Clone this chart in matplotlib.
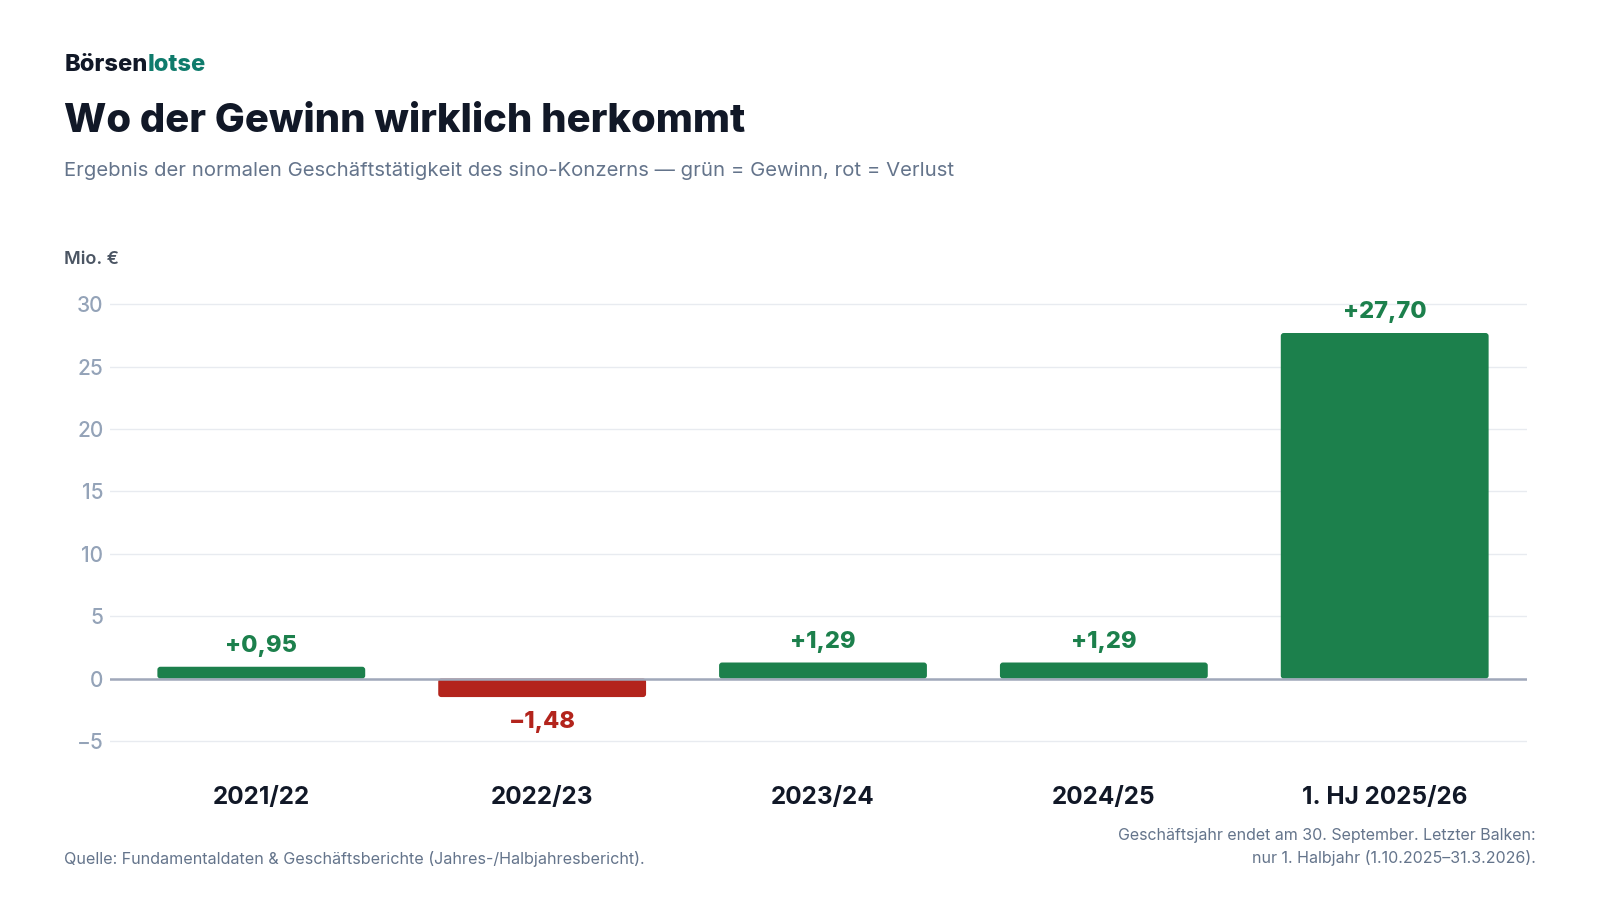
#!/usr/bin/env python3
# coding: utf-8
"""
Bar chart: Ergebnis der normalen Geschäftstätigkeit (sino-Konzern)
"""

import matplotlib.pyplot as plt
from matplotlib.patches import FancyBboxPatch

plt.rcParams["font.family"] = ["Inter", "DejaVu Sans"]

# Data
periods = ["2021/22", "2022/23", "2023/24", "2024/25", "1. HJ 2025/26"]
values = [0.95, -1.48, 1.29, 1.29, 27.70]
yticks = [-5, 0, 5, 10, 15, 20, 25, 30]

GREEN = "#1c804c"
RED = "#b3241c"
DARK = "#111827"
GRAY = "#64748b"
TICK = "#94a3b8"

# layout helpers (positions measured on a 1568x882 view)
W, H = 1568, 882


def fx(px):
    return px / W


def fy(py):
    return 1 - py / H


def fmt(v):
    s = f"{abs(v):.2f}".replace(".", ",")
    return ("+" if v >= 0 else "\u2212") + s


fig = plt.figure(figsize=(16, 9), dpi=100)
ax = fig.add_axes([fx(108), fy(744.5), fx(1496) - fx(108), fy(286) - fy(744.5)])

x = list(range(len(periods)))
xlim = (-0.538, 4.505)
ylim = (-6.5, 31)
ax.set_xlim(*xlim)
ax.set_ylim(*ylim)

# rounded bars: compensate axes aspect so corners stay circular
bw = 0.74
ax_w_px = fig.get_figwidth() * fig.dpi * (fx(1496) - fx(108))
ax_h_px = fig.get_figheight() * fig.dpi * (fy(286) - fy(744.5))
x_per_px = (xlim[1] - xlim[0]) / ax_w_px
y_per_px = (ylim[1] - ylim[0]) / ax_h_px
aspect = y_per_px / x_per_px
for xi, v in zip(x, values):
    y0, h = (0, v) if v >= 0 else (v, -v)
    patch = FancyBboxPatch(
        (xi - bw / 2, y0), bw, h,
        boxstyle=f"round,pad=0,rounding_size={3 * x_per_px}",
        mutation_aspect=aspect,
        facecolor=GREEN if v >= 0 else RED,
        edgecolor="none",
        zorder=3,
    )
    ax.add_patch(patch)

for xi, v in zip(x, values):
    if v >= 0:
        ax.annotate(fmt(v), (xi, v), xytext=(0, 7), textcoords="offset points",
                    ha="center", va="bottom", fontsize=17, fontweight="heavy",
                    color=GREEN)
    else:
        ax.annotate(fmt(v), (xi, v), xytext=(0, -10), textcoords="offset points",
                    ha="center", va="top", fontsize=17, fontweight="heavy",
                    color=RED)

ax.set_yticks(yticks)
ax.set_yticklabels([str(t).replace("-", "\u2212") for t in yticks])
ax.set_xticks(x)
ax.set_xticklabels(periods)

ax.grid(axis="y", color="#e8ebf0", linewidth=1, zorder=0)
ax.axhline(0, color="#a0a8ba", linewidth=1.8, zorder=4)
for s in ax.spines.values():
    s.set_visible(False)
ax.tick_params(axis="y", length=0, pad=5, labelsize=15, labelcolor=TICK)
ax.tick_params(axis="x", length=0, pad=19, labelsize=17.5, labelcolor=DARK)
for lab in ax.get_yticklabels():
    lab.set_fontweight("medium")
for lab in ax.get_xticklabels():
    lab.set_fontweight("bold")

# Header
brand = fig.text(fx(63), fy(64), "Börsen", fontsize=17, fontweight="heavy",
                 color=DARK, va="center", ha="left")
fig.add_artist(plt.Annotation("lotse", xy=(1, 0), xycoords=brand,
                              ha="left", va="bottom", fontsize=17,
                              fontweight="heavy", color="#0f7b6c"))

fig.text(fx(63), fy(119), "Wo der Gewinn wirklich herkommt",
         fontsize=28.8, fontweight="heavy", color=DARK, va="center", ha="left")
fig.text(fx(63), fy(168),
         "Ergebnis der normalen Geschäftstätigkeit des sino-Konzerns \u2014 "
         "grün = Gewinn, rot = Verlust",
         fontsize=14.6, color=GRAY, va="center", ha="left")
fig.text(fx(63), fy(254), "Mio. €", fontsize=13,
         fontweight="semibold", color="#4b5563", va="center", ha="left")

# Footer
fig.text(fx(63), fy(842),
         "Quelle: Fundamentaldaten & Geschäftsberichte "
         "(Jahres-/Halbjahresbericht).",
         fontsize=11.6, color=GRAY, va="center", ha="left")
fig.text(fx(1505), fy(830),
         "Geschäftsjahr endet am 30. September. Letzter Balken:\n"
         "nur 1. Halbjahr (1.10.2025\u201331.3.2026).",
         fontsize=11.5, color=GRAY, va="center", ha="right",
         multialignment="right", linespacing=1.5)

fig.savefig("out.png", dpi=100)
